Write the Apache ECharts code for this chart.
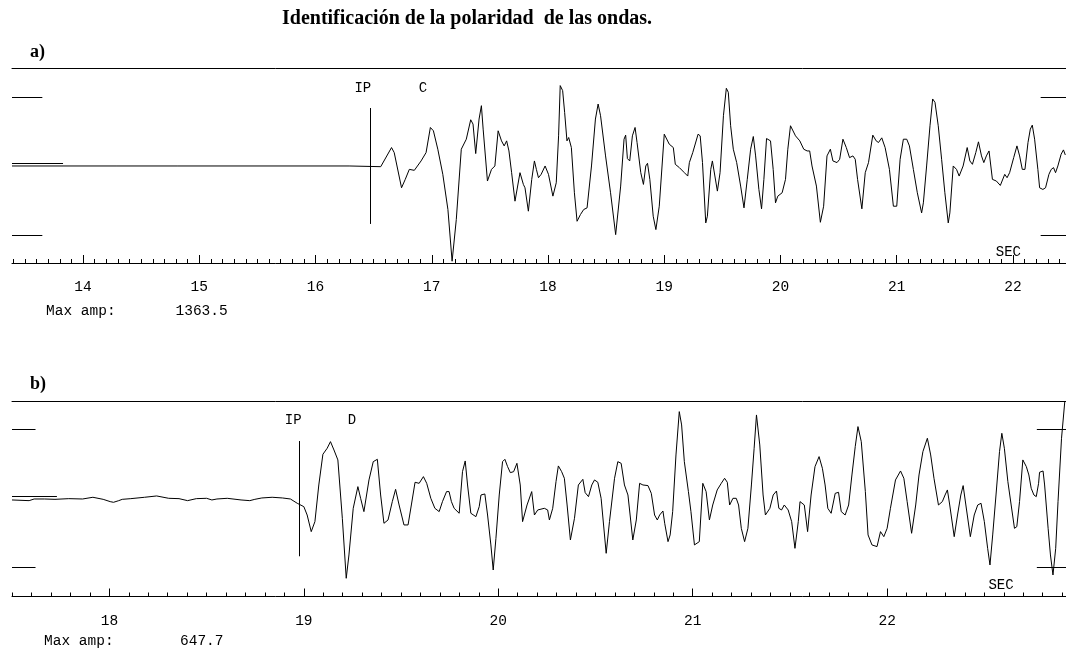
<!DOCTYPE html>
<html><head><meta charset="utf-8">
<script src="https://cdn.jsdelivr.net/npm/echarts@6/dist/echarts.min.js"></script>
<style>html,body{margin:0;padding:0;background:#fff}#c{width:1066px;height:648px}</style>
</head><body><div id="c"></div>
<script>
// ---------- Panel a) trace (time in s, amplitude normalised to the scale marks) ----------
const timeA = [13.389,14.284,14.292,14.300,14.809,14.817,14.825,16.289,16.297,16.305,16.561,16.654,16.677,16.740,16.772,16.807,16.850,16.908,16.951,16.988,17.014,17.052,17.095,17.139,17.175,17.211,17.254,17.297,17.335,17.355,17.378,17.392,17.407,17.427,17.442,17.479,17.514,17.543,17.571,17.600,17.623,17.644,17.664,17.687,17.716,17.759,17.788,17.802,17.831,17.860,17.883,17.900,17.918,17.941,17.975,18.004,18.042,18.071,18.091,18.105,18.126,18.143,18.163,18.178,18.201,18.227,18.250,18.279,18.307,18.336,18.374,18.408,18.431,18.452,18.495,18.538,18.582,18.625,18.654,18.668,18.683,18.703,18.726,18.749,18.766,18.798,18.821,18.841,18.856,18.876,18.905,18.928,18.957,19.000,19.014,19.043,19.078,19.095,19.130,19.173,19.202,19.216,19.245,19.291,19.309,19.329,19.357,19.371,19.400,19.414,19.429,19.457,19.480,19.509,19.534,19.551,19.571,19.594,19.623,19.657,19.686,19.714,19.743,19.766,19.786,19.814,19.837,19.857,19.880,19.914,19.937,19.957,19.977,20.014,20.043,20.063,20.086,20.100,20.129,20.166,20.200,20.229,20.251,20.271,20.309,20.343,20.371,20.400,20.429,20.451,20.486,20.509,20.537,20.566,20.594,20.623,20.643,20.663,20.700,20.729,20.757,20.794,20.823,20.843,20.871,20.900,20.937,20.971,21.000,21.029,21.057,21.086,21.109,21.143,21.177,21.214,21.229,21.257,21.286,21.309,21.329,21.357,21.386,21.414,21.443,21.457,21.486,21.514,21.537,21.571,21.606,21.629,21.651,21.680,21.703,21.729,21.749,21.771,21.794,21.823,21.857,21.891,21.929,21.949,21.971,22.006,22.034,22.057,22.080,22.103,22.129,22.149,22.166,22.186,22.214,22.229,22.257,22.280,22.309,22.329,22.349,22.366,22.386,22.414,22.434,22.450];
const ampA = [0,0,-0.02,0,0,-0.02,0,0,-0.02,0,-0.01,0.267,0.194,-0.316,-0.194,-0.049,-0.063,0.073,0.194,0.558,0.510,0.243,-0.121,-0.631,-1.38,-0.777,0.243,0.388,0.670,0.607,0.180,0.170,0.680,0.874,0.534,-0.218,-0.049,0,0.510,0.364,0.291,0.364,0.218,-0.097,-0.510,-0.097,-0.267,-0.316,-0.655,-0.194,0.073,-0.049,-0.170,-0.121,0,-0.121,-0.437,-0.243,0.437,1.165,1.092,0.777,0.364,0.413,0.267,-0.388,-0.801,-0.704,-0.631,-0.607,0,0.680,0.898,0.728,0.146,-0.388,-0.995,-0.291,0.388,0.447,0.107,0.073,0.437,0.558,0.340,-0.097,-0.267,0,0.039,-0.194,-0.728,-0.922,-0.583,0.461,0.485,0.316,0.267,0.024,-0.024,-0.097,-0.146,0.049,0.194,0.461,0.437,0.049,-0.825,-0.728,-0.049,0.073,0.073,-0.364,-0.097,0.728,1.126,1.068,0.583,0.243,0.049,-0.291,-0.607,-0.194,0.243,0.427,0.146,-0.340,-0.621,-0.194,0.398,0.364,-0.049,-0.534,-0.437,-0.388,-0.194,0.243,0.583,0.607,0.437,0.364,0.243,0.218,0.218,0,-0.291,-0.816,-0.583,0.146,0.243,0.073,0.049,0.097,0.388,0.267,0.121,0.146,0.097,-0.194,-0.621,-0.097,0.049,0.447,0.364,0.340,0.408,0.267,-0.049,-0.583,-0.583,0.097,0.388,0.388,0.291,-0.049,-0.388,-0.680,-0.534,0,0.583,0.971,0.922,0.583,0.097,-0.388,-0.825,-0.680,0,-0.049,-0.146,0,0.267,0.073,0.024,0.194,0.350,0.146,0.049,0.146,0.218,-0.194,-0.218,-0.282,-0.121,-0.170,-0.097,0.121,0.291,0.146,-0.049,-0.049,0.340,0.534,0.592,0.388,-0.049,-0.316,-0.340,-0.316,-0.121,-0.049,-0.024,-0.097,0,0.170,0.233,0.160];

// ---------- Panel b) trace ----------
const timeB = [17.499,17.587,17.613,17.667,17.720,17.791,17.862,17.915,17.968,18.004,18.021,18.048,18.066,18.110,18.181,18.243,18.305,18.358,18.402,18.447,18.500,18.527,18.553,18.606,18.677,18.722,18.748,18.784,18.837,18.890,18.931,18.966,19.000,19.017,19.038,19.057,19.077,19.098,19.120,19.137,19.155,19.175,19.198,19.218,19.232,19.254,19.278,19.292,19.309,19.335,19.357,19.378,19.395,19.412,19.433,19.455,19.472,19.490,19.515,19.536,19.553,19.572,19.593,19.615,19.632,19.653,19.674,19.696,19.713,19.734,19.747,19.759,19.773,19.799,19.816,19.830,19.842,19.859,19.885,19.902,19.911,19.931,19.945,19.962,19.974,19.988,20.005,20.022,20.034,20.048,20.062,20.079,20.096,20.113,20.125,20.148,20.172,20.186,20.203,20.237,20.254,20.263,20.280,20.297,20.309,20.326,20.340,20.354,20.371,20.392,20.412,20.435,20.447,20.464,20.481,20.495,20.512,20.529,20.555,20.572,20.598,20.615,20.632,20.649,20.667,20.692,20.710,20.727,20.744,20.770,20.787,20.804,20.818,20.830,20.847,20.856,20.873,20.884,20.897,20.914,20.931,20.943,20.957,20.978,20.991,21.009,21.034,21.052,21.069,21.086,21.103,21.126,21.147,21.164,21.178,21.190,21.207,21.224,21.236,21.250,21.267,21.284,21.302,21.316,21.328,21.345,21.362,21.374,21.397,21.414,21.431,21.443,21.457,21.471,21.491,21.509,21.526,21.543,21.552,21.574,21.591,21.609,21.629,21.650,21.667,21.681,21.695,21.712,21.733,21.750,21.764,21.784,21.802,21.819,21.836,21.850,21.867,21.888,21.902,21.922,21.948,21.966,21.983,22.000,22.017,22.043,22.069,22.086,22.103,22.126,22.147,22.164,22.184,22.207,22.224,22.241,22.264,22.284,22.298,22.310,22.322,22.345,22.362,22.379,22.391,22.405,22.428,22.448,22.466,22.483,22.500,22.517,22.529,22.543,22.560,22.578,22.590,22.603,22.621,22.638,22.655,22.667,22.681,22.698,22.716,22.729,22.741,22.755,22.767,22.779,22.784,22.802,22.810,22.828,22.840,22.853,22.867,22.879,22.897,22.914];
const ampB = [-0.024,-0.034,-0.010,-0.010,-0.015,-0.005,-0.010,0.015,-0.015,-0.048,-0.058,-0.034,-0.015,-0.005,0.015,0.034,0,-0.005,-0.034,-0.005,0,-0.024,-0.010,0,-0.024,-0.034,-0.015,0.005,0.015,0.005,-0.010,-0.072,-0.121,-0.242,-0.483,-0.338,0.193,0.638,0.725,0.821,0.700,0.556,-0.290,-1.159,-0.821,-0.145,0.169,0,-0.193,0.266,0.531,0.565,0.048,-0.362,-0.314,-0.048,0.130,-0.097,-0.386,-0.386,-0.097,0.232,0.217,0.314,0.217,0,-0.145,-0.193,-0.048,0.097,0.097,-0.048,-0.145,-0.217,0.386,0.541,0.193,-0.217,-0.266,-0.121,0.048,0.063,-0.242,-0.676,-1.039,-0.580,0.048,0.531,0.565,0.459,0.372,0.386,0.507,0.193,-0.338,-0.097,0.097,-0.242,-0.169,-0.145,-0.169,-0.314,-0.145,0.242,0.469,0.386,0.290,-0.097,-0.604,-0.290,0.193,0.275,0.082,0.024,0.193,0.266,0.232,0,-0.797,-0.338,0.290,0.531,0.507,0.193,0.048,-0.604,-0.314,0.217,0.193,0.184,0.072,-0.242,-0.314,-0.242,-0.184,-0.362,-0.628,-0.531,-0.193,0.628,1.256,1.063,0.531,0.097,-0.193,-0.676,-0.628,0.217,0.097,-0.314,-0.097,0.121,0.217,0.290,0.232,-0.097,0,0,-0.097,-0.435,-0.628,-0.435,0.193,0.725,1.208,0.773,0.048,-0.242,-0.145,0.048,0.106,-0.145,-0.169,-0.097,-0.169,-0.338,-0.725,-0.338,-0.048,-0.097,-0.483,0.048,0.459,0.604,0.435,0.193,-0.145,-0.217,0.072,0.087,-0.193,-0.242,-0.097,0.338,0.749,1.039,0.821,0.097,-0.531,-0.676,-0.700,-0.483,-0.556,-0.435,-0.145,0.266,0.396,0.290,-0.048,-0.507,-0.097,0.338,0.676,0.870,0.628,0.290,-0.097,-0.048,0.048,0.121,-0.097,-0.556,-0.242,0.048,0.184,-0.097,-0.556,-0.242,-0.097,-0.072,-0.338,-0.725,-0.966,-0.531,0.048,0.676,0.942,0.725,0.242,-0.097,-0.435,-0.411,-0.048,0.556,0.459,0.338,0.145,0.048,0.024,0.217,0.377,0.396,0.193,-0.435,-0.821,-1.111,-0.725,-0.048,0.870,1.41];

// ---------- Axes, tick labels, annotations ----------
const rangeA = [13.389, 22.456];
const rangeB = [17.499, 22.92];
const ticksA = [14, 15, 16, 17, 18, 19, 20, 21, 22];
const ticksB = [18, 19, 20, 21, 22];
const ampRangeA = [-1.406, 1.42];
const ampRangeB = [-1.423, 1.41];
const titleText = 'Identificación de la polaridad  de las ondas.';
const panelLabels = ['a)', 'b)'];
const maxAmpLabel = 'Max amp:';
const maxAmps = ['1363.5', '647.7'];
const pickA = {time: 16.469, ipAt: 16.407, polAt: 16.924, pol: 'C', secAt: 21.96};
const pickB = {time: 18.978, ipAt: 18.945, polAt: 19.247, pol: 'D', secAt: 22.586};
const scaleMarksA = {left: [13.389, 13.65], zero: [13.389, 13.828], right: [22.238, 22.456]};
const scaleMarksB = {left: [17.499, 17.62], zero: [17.499, 17.73], right: [22.77, 22.92]};

function tenths(r) {
  const out = [];
  for (let k = Math.ceil(r[0] * 10 - 1e-6); k <= Math.floor(r[1] * 10 + 1e-6); k++) {
    if (k % 10 !== 0) out.push(k / 10);
  }
  return out;
}
function pairs(t, a) { return t.map((v, i) => [v, a[i]]); }

const MONO = '"Liberation Mono", "DejaVu Sans Mono", monospace';
const BLACK = '#000';

function axesFor(g, r, ticks) {
  return [
    {gridIndex: g, type: 'value', min: r[0], max: r[1], position: 'bottom',
     axisLine: {show: true, onZero: false, lineStyle: {color: BLACK, width: 1}},
     axisTick: {show: true, inside: true, length: 8, customValues: ticks, lineStyle: {color: BLACK, width: 1}},
     axisLabel: {show: true, customValues: ticks, margin: 17, color: BLACK, fontFamily: MONO, fontSize: 14.5,
                 showMinLabel: true, showMaxLabel: true},
     splitLine: {show: false}, minorTick: {show: false}},
    {gridIndex: g, type: 'value', min: r[0], max: r[1], position: 'bottom',
     axisLine: {show: false, onZero: false},
     axisTick: {show: true, inside: true, length: 4, customValues: tenths(r), lineStyle: {color: BLACK, width: 1}},
     axisLabel: {show: false}, splitLine: {show: false}},
    {gridIndex: g, type: 'value', min: r[0], max: r[1], position: 'top',
     axisLine: {show: true, onZero: false, lineStyle: {color: BLACK, width: 1}},
     axisTick: {show: false}, axisLabel: {show: false}, splitLine: {show: false}}
  ];
}

function marks(m, pick, pr) {
  const seg = (x0, x1, y0, y1) => [{coord: [x0, y0]}, {coord: [x1, y1]}];
  return [
    seg(m.left[0], m.left[1], 1, 1), seg(m.left[0], m.left[1], -1, -1),
    seg(m.zero[0], m.zero[1], pr.zeroMark, pr.zeroMark),
    seg(m.right[0], m.right[1], 1, 1), seg(m.right[0], m.right[1], -1, -1),
    seg(pick.time, pick.time, pr.ipTop, pr.ipBot)
  ];
}

function traceSeries(idx, t, a, m, pick, pr) {
  return {
    type: 'line', xAxisIndex: idx * 3, yAxisIndex: idx, data: pairs(t, a),
    showSymbol: false, symbol: 'none', silent: true, animation: false, clip: true,
    lineStyle: {color: BLACK, width: 1},
    markLine: {silent: true, symbol: ['none', 'none'], animation: false,
               label: {show: false}, lineStyle: {color: BLACK, width: 1, type: 'solid'},
               emphasis: {disabled: true}, data: marks(m, pick, pr)},
    markPoint: {silent: true, symbol: 'circle', symbolSize: 0, animation: false,
                label: {show: true, position: 'inside', formatter: '{b}', color: BLACK,
                        fontFamily: MONO, fontSize: 14},
                data: [
                  {name: 'IP', coord: [pick.ipAt, pr.labelY]},
                  {name: pick.pol, coord: [pick.polAt, pr.labelY]},
                  {name: 'SEC', coord: [pick.secAt, pr.secY]}
                ]}
  };
}

const chart = echarts.init(document.getElementById('c'), null, {renderer: 'canvas'});
const gridA = {left: 12, right: 0, top: 68, height: 195, outerBoundsMode: 'none', containLabel: false};
const gridB = {left: 12, right: 0, top: 401, height: 195.5, outerBoundsMode: 'none', containLabel: false};

function txt(text, x, y, font, align) {
  return {type: 'text', x: x, y: y, silent: true,
          style: {text: text, font: font, fill: BLACK, textAlign: align || 'left', textVerticalAlign: 'middle',
                  align: align || 'left', verticalAlign: 'middle'}};
}
const SERIF_B = 'bold 20px "Liberation Serif", "DejaVu Serif", serif';
const SERIF_B2 = 'bold 18px "Liberation Serif", "DejaVu Serif", serif';
const MONO_F = '14.5px "Liberation Mono", "DejaVu Sans Mono", monospace';

chart.setOption({
  animation: false,
  backgroundColor: '#fff',
  grid: [gridA, gridB],
  xAxis: axesFor(0, rangeA, ticksA).concat(axesFor(1, rangeB, ticksB)),
  yAxis: [
    {gridIndex: 0, type: 'value', min: ampRangeA[0], max: ampRangeA[1], show: false},
    {gridIndex: 1, type: 'value', min: ampRangeB[0], max: ampRangeB[1], show: false}
  ],
  series: [
    traceSeries(0, timeA, ampA, scaleMarksA, pickA, {zeroMark: 0.045, ipTop: 0.84, ipBot: -0.84, labelY: 1.126, secY: -1.256}),
    traceSeries(1, timeB, ampB, scaleMarksB, pickB, {zeroMark: 0.03, ipTop: 0.83, ipBot: -0.84, labelY: 1.135, secY: -1.267})
  ],
  graphic: [
    txt(titleText, 282, 19, SERIF_B),
    txt(panelLabels[0], 30, 52, SERIF_B2),
    txt(panelLabels[1], 30, 384, SERIF_B2),
    txt(maxAmpLabel, 46, 311, MONO_F),
    txt(maxAmps[0], 175.5, 311, MONO_F),
    txt(maxAmpLabel, 44, 641, MONO_F),
    txt(maxAmps[1], 180, 641, MONO_F)
  ]
});
</script></body></html>
